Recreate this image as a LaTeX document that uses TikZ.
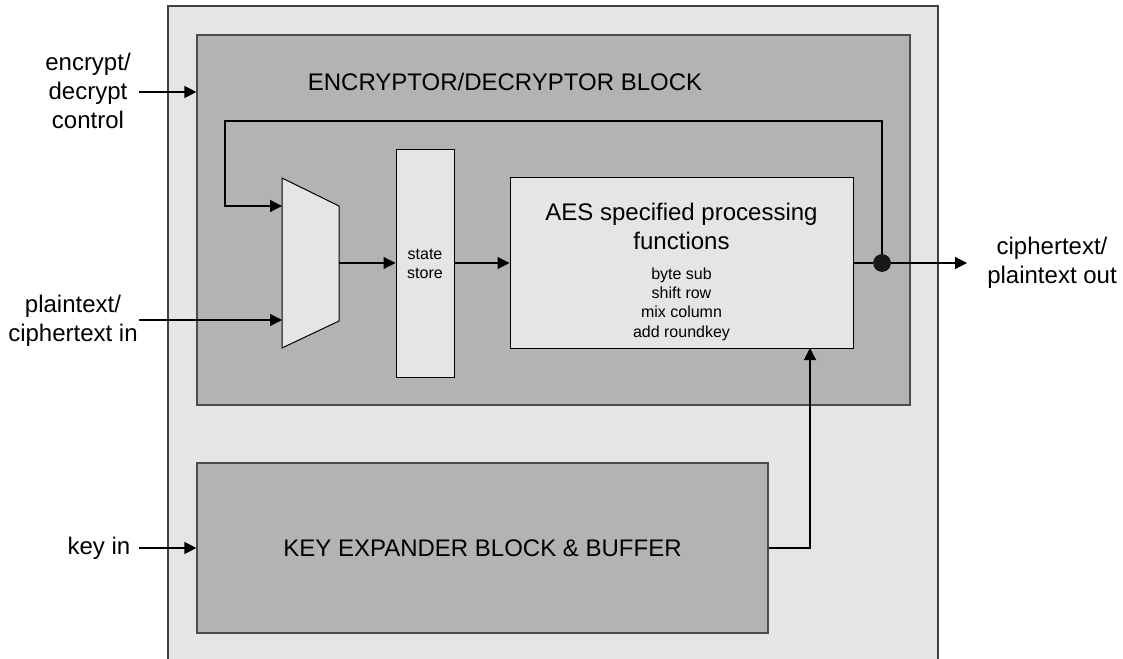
\documentclass[tikz,border=0pt]{standalone}
\usepackage{fontspec}
\setmainfont{Liberation Sans}
\usetikzlibrary{arrows.meta,calc}
\definecolor{lightfill}{HTML}{E5E5E5}
\definecolor{darkfill}{HTML}{B3B3B3}
\begin{document}
\begin{tikzpicture}[x=0.75pt,y=-0.75pt,
  bigtext/.style={font=\fontsize{18pt}{21.75pt}\selectfont,align=center,inner sep=0pt},
  smalltext/.style={font=\fontsize{12pt}{14.5pt}\selectfont,align=center,inner sep=0pt},
  blockbox/.style={draw=black!70,fill=darkfill,line width=0.9pt,inner sep=0pt},
  unitbox/.style={draw=black,fill=lightfill,line width=0.75pt,inner sep=0pt},
  wire/.style={line width=0.9pt,draw=black},
  sig/.style={wire,-{Triangle[length=9pt,width=9pt]}}]
\useasboundingbox (0,0) rectangle (1123,659);
% chip outline, open towards the bottom
\fill[lightfill] (168,6) rectangle (938,659);
\draw[black!75,line width=0.9pt] (168,659) -- (168,6) -- (938,6) -- (938,659);
% encryptor / decryptor block
\node[blockbox,minimum width=713*0.75pt,minimum height=370*0.75pt] (enc) at (553.5,220) {};
\node[bigtext] (enctitle) at (505,82) {ENCRYPTOR/DECRYPTOR BLOCK};
% key expander block
\node[blockbox,minimum width=571*0.75pt,minimum height=170*0.75pt] (key) at (482.5,548) {};
\node[bigtext] (keytitle) at (key.center) {KEY EXPANDER BLOCK \& BUFFER};
% multiplexer
\draw[unitbox] (282,178) -- (339,206) -- (339,321) -- (282,348) -- cycle;
\coordinate (muxa) at (282,206);
\coordinate (muxb) at (282,320);
\coordinate (muxout) at (339,263);
% state store
\node[unitbox,minimum width=58*0.75pt,minimum height=227*0.75pt] (state) at (425,263.5) {};
\node[smalltext] (statetext) at (425,264) {state\\store};
% AES round functions
\node[unitbox,minimum width=343*0.75pt,minimum height=170*0.75pt] (aes) at (681.5,263) {};
\node[bigtext] (aestitle) at (681.5,226) {AES specified processing\\functions};
\node[smalltext] (aesops) at (681.5,304) {byte sub\\shift row\\mix column\\add roundkey};
% output junction
\node[circle,fill=black!90,draw=black,minimum size=17*0.75pt,inner sep=0pt] (dot) at (882,263) {};
% external labels
\node[bigtext] (ctl) at (88,91) {encrypt/\\decrypt\\control};
\node[bigtext] (ptin) at (73,321) {plaintext/\\ciphertext in};
\node[bigtext] (keyin) at (99,548) {key in};
\node[bigtext] (ctout) at (1052,263) {ciphertext/\\plaintext out};
% connections
\draw[sig] (139,92) -- (enc.west |- 0,92);
\draw[sig] (139,548) -- (key.west |- 0,548);
\draw[sig] (139,320) -- (muxb);
\draw[sig] (muxout) -- (state.west |- muxout);
\draw[sig] (state.east |- 0,263) -- (aes.west |- 0,263);
\draw[wire] (aes.east |- 0,263) -- (dot);
\draw[sig] (dot) -- (967,263);
\draw[sig] (dot) -- (882,121) -- (225,121) -- (225,206) -- (muxa);
\draw[sig] (key.east |- 0,548) -- (810,548) -- (810,348);
\end{tikzpicture}
\end{document}
